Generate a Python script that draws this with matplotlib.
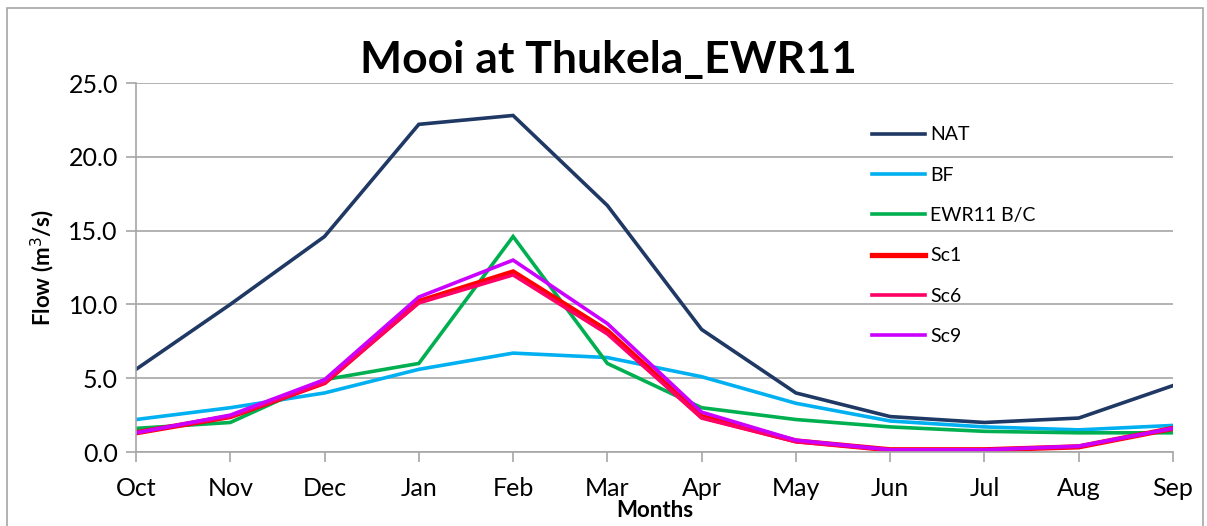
import matplotlib.pyplot as plt
from matplotlib.patches import Rectangle

plt.rcParams['font.family'] = ['Lato', 'DejaVu Sans']

months = ['Oct', 'Nov', 'Dec', 'Jan', 'Feb', 'Mar', 'Apr', 'May', 'Jun', 'Jul', 'Aug', 'Sep']
nat = [5.6, 10.0, 14.6, 22.2, 22.8, 16.7, 8.3, 4.0, 2.4, 2.0, 2.3, 4.5]
bf = [2.2, 3.0, 4.0, 5.6, 6.7, 6.4, 5.1, 3.3, 2.1, 1.7, 1.5, 1.8]
ewr11_bc = [1.6, 2.0, 4.9, 6.0, 14.6, 6.0, 3.0, 2.2, 1.7, 1.4, 1.3, 1.3]
sc1 = [1.3, 2.4, 4.7, 10.2, 12.2, 8.2, 2.4, 0.75, 0.15, 0.15, 0.35, 1.6]
sc6 = [1.3, 2.4, 4.7, 10.1, 12.0, 8.0, 2.3, 0.7, 0.15, 0.15, 0.35, 1.6]
sc9 = [1.3, 2.5, 4.9, 10.5, 13.0, 8.7, 2.7, 0.8, 0.15, 0.15, 0.4, 1.6]

series = [
    ('NAT', nat, '#1f3864', 2.6),
    ('BF', bf, '#00b0f0', 2.6),
    ('EWR11 B/C', ewr11_bc, '#00b050', 2.6),
    ('Sc1', sc1, '#ff0000', 3.8),
    ('Sc6', sc6, '#ff0066', 2.6),
    ('Sc9', sc9, '#cc00ff', 2.6),
]

fig = plt.figure(figsize=(12.07, 5.26), dpi=100)
fig.patches.append(Rectangle((7 / 1207, -0.1), 1196 / 1207, 1.1 - 8 / 526,
                             transform=fig.transFigure, fill=False,
                             edgecolor='#a6a6a6', linewidth=1.2))
ax = fig.add_axes([136 / 1207, 1 - 452 / 526, 1037 / 1207, 369 / 526])

x = list(range(len(months)))
for name, vals, color, lw in series:
    ax.plot(x, vals, color=color, linewidth=lw, label=name, solid_joinstyle='miter')

ax.set_xlim(0, len(months) - 1)
ax.set_ylim(0, 25)
ax.set_yticks([0, 5, 10, 15, 20, 25])
ax.set_yticklabels(['%.1f' % v for v in [0, 5, 10, 15, 20, 25]])
ax.set_xticks(x)
ax.set_xticklabels(months)
ax.yaxis.grid(True, color='#a6a6a6', linewidth=1.2)
ax.set_axisbelow(True)
for s in ['top', 'right']:
    ax.spines[s].set_visible(False)
for s in ['left', 'bottom']:
    ax.spines[s].set_color('#a6a6a6')
    ax.spines[s].set_linewidth(1.2)
ax.tick_params(axis='both', colors='#a6a6a6', labelcolor='black', labelsize=18,
               length=7, width=1.2)
ax.tick_params(axis='x', pad=11)
ax.tick_params(axis='y', pad=6)

fig.text(608 / 1207, 1 - 60 / 526, 'Mooi at Thukela_EWR11', fontsize=32,
         fontweight='bold', ha='center', va='center')
ax.set_xlabel('Months', fontsize=16, fontweight='bold', labelpad=0)
ax.set_ylabel('Flow (m$^3$/s)', fontsize=16, fontweight='bold', labelpad=8)

ax.legend(loc='upper left', bbox_to_anchor=(0.693, 0.93), frameon=False,
          fontsize=14, handlelength=2.7, labelspacing=1.2, handletextpad=0.3)

fig.savefig('out.png', dpi=100)
